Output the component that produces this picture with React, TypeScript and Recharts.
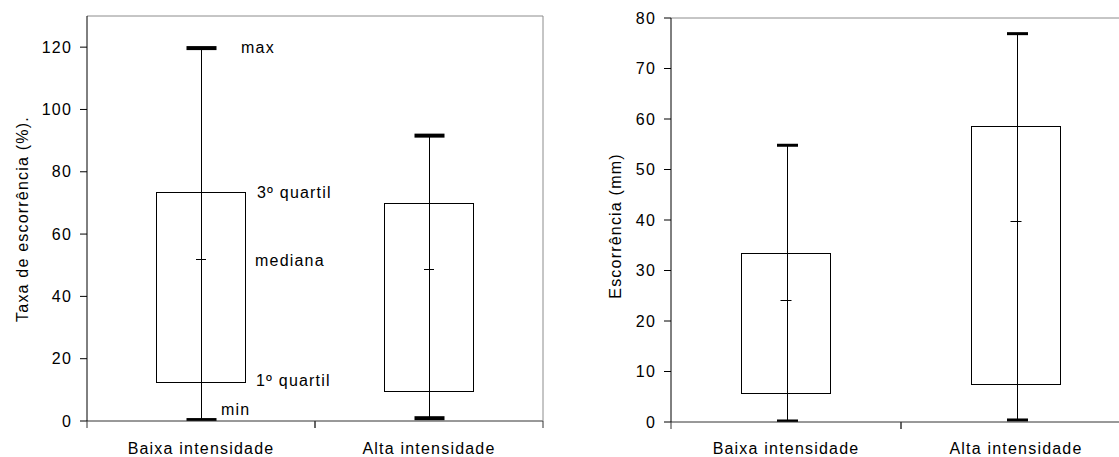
import React from 'react';
import { ComposedChart, Bar, Line, XAxis, YAxis, ReferenceDot } from 'recharts';

const FONT = '"Liberation Sans", Arial, Helvetica, sans-serif';
const TEXT_SIZE = 16;
const SPACING = 1.2;

const categories = ['Baixa intensidade', 'Alta intensidade'];

// Taxa de escorrência (%)
const taxaMin = [0.3, 0.9];
const taxaQ1 = [12.4, 9.6];
const taxaMedian = [52.0, 48.9];
const taxaQ3 = [73.4, 70.0];
const taxaMax = [119.7, 91.6];
const taxaTicks = [0, 20, 40, 60, 80, 100, 120];

// Escorrência (mm)
const escMin = [0.2, 0.4];
const escQ1 = [5.7, 7.6];
const escMedian = [24.2, 39.8];
const escQ3 = [33.4, 58.7];
const escMax = [54.8, 76.9];
const escTicks = [0, 10, 20, 30, 40, 50, 60, 70, 80];

type Row = { name: string; min: number; q1: number; median: number; q3: number; max: number };
type StatKey = 'min' | 'q1' | 'median' | 'q3' | 'max';
type Note = { key: StatKey; text: string; dx: number; dy: number };

// legend written beside the first box
const boxNotes: Note[] = [
  { key: 'max', text: 'max', dx: 40, dy: -1 },
  { key: 'q3', text: '3º quartil', dx: 56, dy: 0 },
  { key: 'median', text: 'mediana', dx: 54, dy: 1 },
  { key: 'q1', text: '1º quartil', dx: 55, dy: -2 },
  { key: 'min', text: 'min', dx: 20, dy: -11 },
];

const buildRows = (min: number[], q1: number[], median: number[], q3: number[], max: number[]): Row[] =>
  categories.map((name, i) => ({ name, min: min[i], q1: q1[i], median: median[i], q3: q3[i], max: max[i] }));

const taxaRows = buildRows(taxaMin, taxaQ1, taxaMedian, taxaQ3, taxaMax);
const escRows = buildRows(escMin, escQ1, escMedian, escQ3, escMax);

const textStyle = { fontFamily: FONT, fontSize: TEXT_SIZE, letterSpacing: SPACING, fill: '#000' };

const BoxShape = (props: any) => {
  const { x, y, width, height } = props;
  const top = Math.round(Math.min(y, y + height)) + 0.5;
  const bottom = Math.round(Math.max(y, y + height)) + 0.5;
  return (
    <rect x={Math.round(x) + 0.5} y={top} width={Math.round(width) - 1} height={bottom - top}
      fill="#fff" stroke="#000" strokeWidth={1} />
  );
};

const makeWhisker = (capWidth: number, capThickness: number) => (props: any) => {
  const { x, y, width, height } = props;
  const top = Math.min(y, y + height);
  const bottom = Math.max(y, y + height);
  const cx = Math.round(x + width / 2) + 0.5;
  return (
    <g>
      <line x1={cx} x2={cx} y1={top} y2={bottom} stroke="#000" strokeWidth={1} />
      <rect x={cx - capWidth / 2} y={top - capThickness / 2} width={capWidth} height={capThickness} fill="#000" />
      <rect x={cx - capWidth / 2} y={bottom - capThickness / 2} width={capWidth} height={capThickness} fill="#000" />
    </g>
  );
};

const YTick = (props: any) => {
  const { x, y, payload } = props;
  return (
    <text x={x} y={y} dy="0.35em" textAnchor="end" style={textStyle}>
      {payload.value}
    </text>
  );
};

const makeCategoryTick = (baseline: number) => (props: any) => {
  const { x, y, payload, width } = props;
  const half = payload.offset ?? width / (2 * categories.length);
  return (
    <g>
      <line x1={x - half} x2={x - half} y1={y} y2={y + 7} stroke="#333" />
      <line x1={x + half} x2={x + half} y1={y} y2={y + 7} stroke="#333" />
      <text x={x} y={y + baseline} textAnchor="middle" style={textStyle}>
        {payload.value}
      </text>
    </g>
  );
};

interface BoxPlotProps {
  rows: Row[];
  domain: [number, number];
  ticks: number[];
  title: string;
  width: number;
  height: number;
  yAxisWidth: number;
  marginTop: number;
  marginRight: number;
  xAxisHeight: number;
  labelBaseline: number;
  boxWidth: number;
  capWidth: number;
  capThickness: number;
  medianWidth: number;
  titleX: number;
  titleY: number;
  notes?: Note[];
}

const BoxPlot: React.FC<BoxPlotProps> = (p) => {
  const Whisker = makeWhisker(p.capWidth, p.capThickness);
  const CategoryTick = makeCategoryTick(p.labelBaseline);
  return (
    <ComposedChart
      width={p.width}
      height={p.height}
      data={p.rows}
      margin={{ top: p.marginTop - 1, right: p.marginRight - 1, bottom: 0, left: 0 }}
      barCategoryGap={0}
    >
      {/* thin top and right axes close the plot frame */}
      <XAxis xAxisId="top" dataKey="name" orientation="top" height={1} tick={false} tickLine={false}
        axisLine={{ stroke: '#8c8c8c' }} />
      <XAxis xAxisId="cat" dataKey="name" type="category" height={p.xAxisHeight} interval={0}
        tickSize={0} tickMargin={0} tickLine={false} axisLine={{ stroke: '#333' }} tick={<CategoryTick />} />
      <XAxis xAxisId="wh" dataKey="name" hide />
      <YAxis
        domain={p.domain}
        ticks={p.ticks}
        interval={0}
        allowDataOverflow
        width={p.yAxisWidth}
        tickSize={7}
        tickMargin={8}
        axisLine={{ stroke: '#000' }}
        tickLine={{ stroke: '#000' }}
        tick={<YTick />}
        label={{
          content: () => (
            <text x={p.titleX} y={p.titleY} dy="0.35em" textAnchor="middle" style={textStyle}
              transform={`rotate(-90 ${p.titleX} ${p.titleY})`}>
              {p.title}
            </text>
          ),
        }}
      />
      <YAxis yAxisId="frame" orientation="right" width={1} domain={[0, 1]} tick={false} tickLine={false}
        axisLine={{ stroke: '#8c8c8c' }} />

      <Bar xAxisId="cat" dataKey={(d: Row) => [d.q1, d.q3]} barSize={p.boxWidth} shape={<BoxShape />}
        isAnimationActive={false} legendType="none" />
      <Bar xAxisId="wh" dataKey={(d: Row) => [d.min, d.max]} barSize={p.capWidth} shape={<Whisker />}
        isAnimationActive={false} legendType="none" />
      <Line
        xAxisId="cat"
        dataKey="median"
        stroke="none"
        isAnimationActive={false}
        legendType="none"
        activeDot={false}
        dot={(d: any) => (
          <line key={`median-${d.index}`} x1={d.cx - p.medianWidth / 2} x2={d.cx + p.medianWidth / 2}
            y1={Math.round(d.cy) + 0.5} y2={Math.round(d.cy) + 0.5} stroke="#000" strokeWidth={1} />
        )}
      />

      {(p.notes ?? []).map((n) => (
        <ReferenceDot
          key={n.key}
          xAxisId="cat"
          x={p.rows[0].name}
          y={p.rows[0][n.key]}
          r={0}
          fill="none"
          stroke="none"
          label={{
            content: (lp: any) => (
              <text x={lp.viewBox.x + n.dx} y={lp.viewBox.y + n.dy} dy="0.35em" textAnchor="start" style={textStyle}>
                {n.text}
              </text>
            ),
          }}
        />
      ))}
    </ComposedChart>
  );
};

export default function App() {
  return (
    <div style={{ position: 'absolute', left: 0, top: 0, width: 1119, height: 457, overflow: 'hidden', background: '#fff' }}>
      <div style={{ position: 'absolute', left: 0, top: 0 }}>
        <BoxPlot
          rows={taxaRows}
          domain={[0, 130]}
          ticks={taxaTicks}
          title="Taxa de escorrência (%)."
          width={560}
          height={457}
          yAxisWidth={87}
          marginTop={16}
          marginRight={17}
          xAxisHeight={36}
          labelBaseline={33}
          boxWidth={90}
          capWidth={30}
          capThickness={4}
          medianWidth={10}
          titleX={22}
          titleY={219}
          notes={boxNotes}
        />
      </div>
      <div style={{ position: 'absolute', left: 600, top: 0 }}>
        <BoxPlot
          rows={escRows}
          domain={[0, 80]}
          ticks={escTicks}
          title="Escorrência (mm)"
          width={560}
          height={457}
          yAxisWidth={71}
          marginTop={18}
          marginRight={29}
          xAxisHeight={35}
          labelBaseline={32}
          boxWidth={90}
          capWidth={21}
          capThickness={3}
          medianWidth={11}
          titleX={15}
          titleY={226}
        />
      </div>
    </div>
  );
}
